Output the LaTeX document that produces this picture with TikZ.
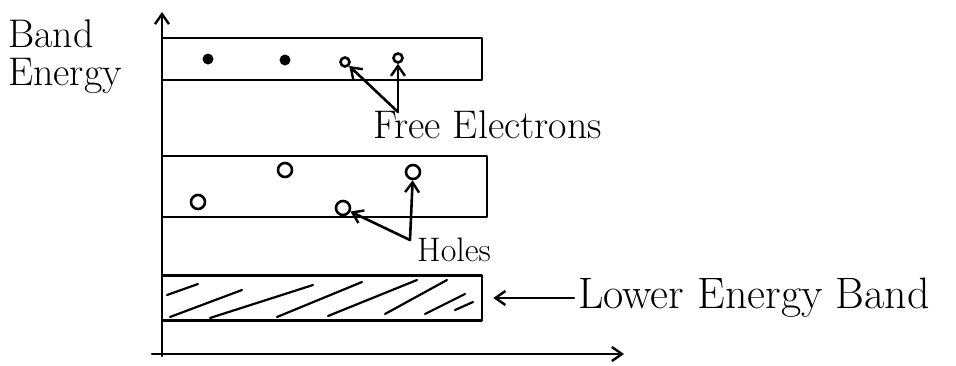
\documentclass[tikz,border=0pt]{standalone}
\usetikzlibrary{arrows.meta}
\begin{document}
\begin{tikzpicture}[x=1pt,y=-1pt,
  ln/.style={line width=2.6pt,line cap=round,line join=round},
  arr/.style={ln,-{Straight Barb[length=10pt,width=14pt,line width=2.4pt]}},
  band/.style={ln,draw,rectangle,inner sep=0pt},
  hat/.style={line width=2.2pt,line cap=round},
  dot/.style={circle,fill,inner sep=0pt,minimum size=11pt},
  eln/.style={circle,draw,line width=2.6pt,inner sep=0pt,minimum size=9pt},
  hole/.style={circle,draw,line width=2.6pt,inner sep=0pt,minimum size=14pt},
  lblA/.style={font=\fontsize{40}{38}\selectfont},
  lblB/.style={font=\fontsize{40}{44}\selectfont},
  lblC/.style={font=\fontsize{34}{38}\selectfont},
  lblD/.style={font=\fontsize{44}{48}\selectfont}
]
\useasboundingbox (0,0) rectangle (956,365);
% axes
\coordinate (O) at (162,356);
\coordinate (yt) at (162,12);
\coordinate (xs) at (152,354);
\coordinate (xt) at (624,354);
\draw[arr] (O) -- (yt);
\draw[arr] (xs) -- (xt);
% bands
\node[band,minimum width=320pt,minimum height=42pt] (b1) at (322,59) {};
\node[band,minimum width=325pt,minimum height=61pt] (b2) at (324.5,186.5) {};
\node[band,minimum width=320pt,minimum height=45pt] (b3) at (322,298) {};
% hatching
\draw[hat] (167,295) -- (198,284);
\draw[hat] (170,317) -- (242,290);
\draw[hat] (210,318) -- (313,285);
\draw[hat] (277,317) -- (362,282);
\draw[hat] (328,316) -- (417,280);
\draw[hat] (385,314) -- (447,280);
\draw[hat] (425,314) -- (465,294);
\draw[hat] (455,310) -- (473,302);
% electrons
\node[dot] (e1) at (208,59) {};
\node[dot] (e2) at (285,60) {};
\node[eln] (e3) at (345,62) {};
\node[eln] (e4) at (398,58) {};
\coordinate (fej) at (398,112);
\draw[arr] (fej) -- (e3);
\draw[arr] (fej) -- (e4);
\node[lblB,anchor=base west,inner sep=0pt] (fe) at (373,138) {Free Electrons};
% holes
\node[hole] (h1) at (198,202) {};
\node[hole] (h2) at (285,170) {};
\node[hole] (h3) at (343,208) {};
\node[hole] (h4) at (413,172) {};
\coordinate (hj) at (410,240);
\draw[arr] (hj) -- (h3);
\draw[arr] (hj) -- (h4);
\node[lblC,anchor=base west,inner sep=0pt] (ho) at (417,261) {Holes};
% lower energy band label
\node[lblD,anchor=base west,inner sep=0pt] (leb) at (578,308) {Lower Energy Band};
\draw[arr,shorten >=10pt,shorten <=4pt] (leb.west |- b3.east) -- (b3.east);
% axis label
\node[lblA,anchor=north west,align=left,inner sep=0pt] (be) at (8,20) {Band\\Energy};
\end{tikzpicture}
\end{document}
